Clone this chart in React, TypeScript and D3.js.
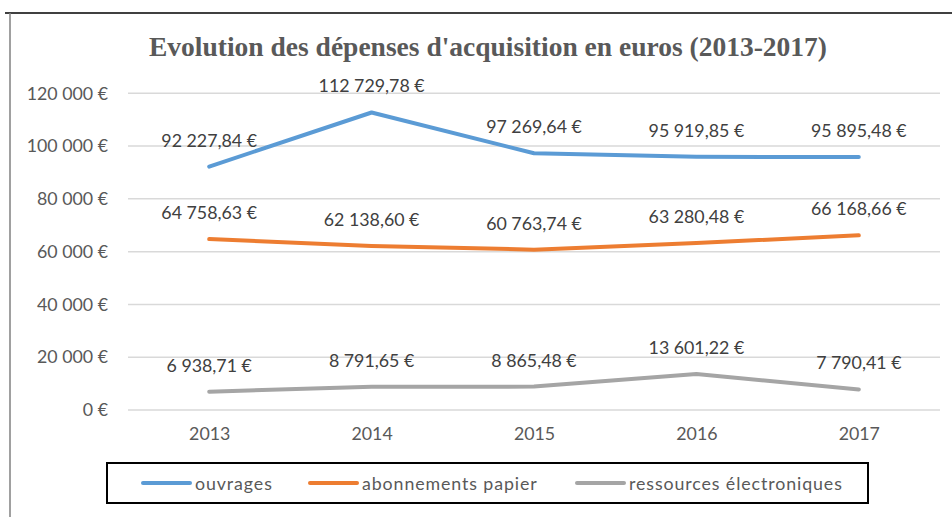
import React, { useEffect, useRef } from 'react';
import * as d3 from 'd3';

const years = ['2013', '2014', '2015', '2016', '2017'];
const ouvrages = [92227.84, 112729.78, 97269.64, 95919.85, 95895.48];
const abonnements = [64758.63, 62138.6, 60763.74, 63280.48, 66168.66];
const ressources = [6938.71, 8791.65, 8865.48, 13601.22, 7790.41];
const yTicks = [0, 20000, 40000, 60000, 80000, 100000, 120000];

const series = [
  { name: 'ouvrages', values: ouvrages, color: '#5b9bd5' },
  { name: 'abonnements papier', values: abonnements, color: '#ed7d31' },
  { name: 'ressources électroniques', values: ressources, color: '#a5a5a5' },
];

const W = 952;
const H = 517;
const FONT = 'Lato, "Open Sans", sans-serif';
const TXT = '#595959';
const FS = 17.8;

const fr = d3.formatLocale({ decimal: ',', thousands: '\u00a0', grouping: [3], currency: ['', '\u00a0€'] });
const fmtVal = fr.format('$,.2f');
const fmtTick = fr.format('$,.0f');

export default function App() {
  const ref = useRef<SVGSVGElement>(null);

  useEffect(() => {
    const svg = d3.select(ref.current);
    svg.selectAll('*').remove();

    // frame
    svg.append('rect').attr('width', W).attr('height', H).attr('fill', '#fff');
    svg.append('line').attr('x1', 5).attr('x2', W).attr('y1', 13).attr('y2', 13).attr('stroke', '#000').attr('stroke-width', 1.5);
    svg.append('line').attr('x1', 10).attr('x2', 10).attr('y1', 13).attr('y2', H).attr('stroke', '#808080').attr('stroke-width', 1.5);

    svg
      .append('text')
      .attr('x', 488)
      .attr('y', 56)
      .attr('text-anchor', 'middle')
      .attr('font-family', '"Liberation Serif", "DejaVu Serif", serif')
      .attr('font-weight', 'bold')
      .attr('font-size', 27.5)
      .attr('fill', TXT)
      .text("Evolution des dépenses d'acquisition en euros (2013-2017)");

    const x = d3.scalePoint<string>().domain(years).range([128, 940]).padding(0.5);
    const y = d3.scaleLinear().domain([0, 120000]).range([410, 93.3]);

    svg
      .append('g')
      .selectAll('line')
      .data(yTicks)
      .join('line')
      .attr('x1', 128)
      .attr('x2', 940)
      .attr('y1', (d) => y(d))
      .attr('y2', (d) => y(d))
      .attr('stroke', '#d9d9d9')
      .attr('stroke-width', 1.5);

    const yAxis = svg
      .append('g')
      .attr('transform', 'translate(128,0)')
      .call(d3.axisLeft(y).tickValues(yTicks).tickSize(0).tickPadding(20).tickFormat((d) => fmtTick(d as number)));
    yAxis.select('.domain').remove();
    yAxis.selectAll('text').attr('fill', TXT).attr('font-size', FS).attr('font-family', FONT);

    const xAxis = svg
      .append('g')
      .attr('transform', 'translate(0,410)')
      .call(d3.axisBottom(x).tickSize(0).tickPadding(17));
    xAxis.select('.domain').remove();
    xAxis.selectAll('text').attr('fill', TXT).attr('font-size', FS).attr('font-family', FONT);

    const line = d3
      .line<number>()
      .x((_, i) => x(years[i]) as number)
      .y((d) => y(d));

    series.forEach((s) => {
      svg
        .append('path')
        .datum(s.values)
        .attr('d', line)
        .attr('fill', 'none')
        .attr('stroke', s.color)
        .attr('stroke-width', 4)
        .attr('stroke-linecap', 'round')
        .attr('stroke-linejoin', 'round');
      svg
        .append('g')
        .selectAll('text')
        .data(s.values)
        .join('text')
        .attr('x', (_, i) => x(years[i]) as number)
        .attr('y', (d) => y(d) - 20)
        .attr('text-anchor', 'middle')
        .attr('font-family', FONT)
        .attr('font-size', FS)
        .attr('fill', '#404040')
        .text((d) => fmtVal(d));
    });

    // legend
    const lg = svg.append('g');
    lg.append('rect').attr('x', 107).attr('y', 463).attr('width', 761).attr('height', 40).attr('fill', 'none').attr('stroke', '#000').attr('stroke-width', 2);
    const legendX = [143, 310, 577];
    series.forEach((s, i) => {
      lg.append('line').attr('x1', legendX[i]).attr('x2', legendX[i] + 47).attr('y1', 483).attr('y2', 483).attr('stroke', s.color).attr('stroke-width', 4).attr('stroke-linecap', 'round');
      lg.append('text')
        .attr('x', legendX[i] + 52)
        .attr('y', 489.5)
        .attr('font-family', FONT)
        .attr('font-size', FS)
        .attr('letter-spacing', 0.9)
        .attr('fill', TXT)
        .text(s.name);
    });
  }, []);

  return <svg ref={ref} width={W} height={H} style={{ position: 'absolute', left: 0, top: 0 }} />;
}
